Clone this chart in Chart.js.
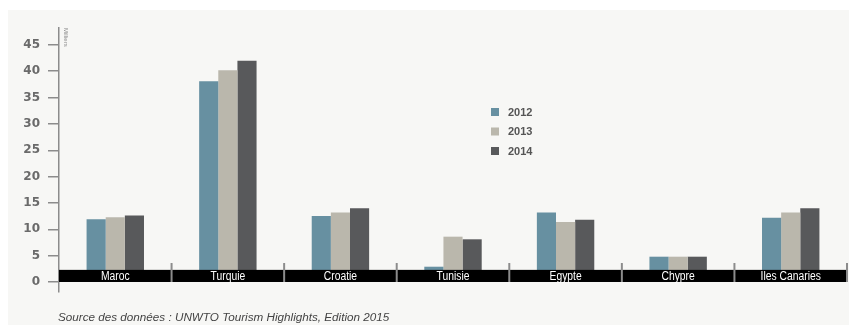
<!DOCTYPE html>
<html>
<head>
<meta charset="utf-8">
<script src="https://cdn.jsdelivr.net/npm/chart.js@4"></script>
<style>
  body { margin: 0; background: #ffffff; }
  #wrap { position: relative; width: 849px; height: 325px; }
  #source {
    position: absolute; left: 58px; top: 310px;
    font: italic 11.7px "Liberation Sans", Arial, sans-serif;
    color: #444; line-height: 14px; white-space: nowrap;
  }
</style>
</head>
<body>
<div id="wrap">
  <canvas id="salesChart" width="849" height="325"></canvas>
  <div id="source">Source des données : UNWTO Tourism Highlights, Edition 2015</div>
</div>
<script>
// data (milliers)
const categories = ['Maroc', 'Turquie', 'Croatie', 'Tunisie', 'Egypte', 'Chypre', 'Iles Canaries'];
const years = ['2012', '2013', '2014'];
const values2012 = [11.9, 38.1, 12.5, 2.9, 13.2, 4.8, 12.2];
const values2013 = [12.3, 40.2, 13.2, 8.6, 11.4, 4.8, 13.2];
const values2014 = [12.6, 42.0, 14.0, 8.1, 11.8, 4.8, 14.0];
const yTicks = [0, 5, 10, 15, 20, 25, 30, 35, 40, 45];
const unitLabel = 'Milliers';

const colors = ['#6790a1', '#bab7ac', '#58595b'];

// grey panel behind the chart
const panelPlugin = {
    id: 'panel',
    beforeDraw(chart) {
        const ctx = chart.ctx;
        ctx.save();
        ctx.fillStyle = '#ffffff';
        ctx.fillRect(0, 0, chart.width, chart.height);
        ctx.fillStyle = '#f7f7f5';
        ctx.fillRect(8, 10, chart.width - 8, chart.height - 10);
        ctx.restore();
    }
};

// black band with category names, drawn over the bar feet
const bandPlugin = {
    id: 'band',
    afterDatasetsDraw(chart) {
        const ctx = chart.ctx;
        const x = chart.scales.x;
        const y = chart.scales.y;
        const area = chart.chartArea;
        const y0 = y.getPixelForValue(0);
        const yTop = y.getPixelForValue(2.3);
        ctx.save();
        ctx.fillStyle = '#000000';
        ctx.fillRect(area.left, yTop, area.right - area.left, y0 - yTop);

        // separators between categories
        ctx.strokeStyle = '#8c8c8c';
        ctx.lineWidth = 2;
        for (let i = 0; i < categories.length; i++) {
            const sx = (x.getPixelForValue(i) + x.getPixelForValue(i + 1)) / 2;
            ctx.beginPath();
            ctx.moveTo(sx, y.getPixelForValue(3.6));
            ctx.lineTo(sx, y0);
            ctx.stroke();
        }

        // condensed white labels
        ctx.fillStyle = '#ffffff';
        ctx.font = '12px "Liberation Sans", Arial, sans-serif';
        ctx.textAlign = 'center';
        ctx.textBaseline = 'middle';
        for (let i = 0; i < categories.length; i++) {
            ctx.save();
            ctx.translate(x.getPixelForValue(i), (y0 + yTop) / 2 + 1);
            ctx.scale(0.86, 1);
            ctx.fillText(categories[i], 0, 0);
            ctx.restore();
        }

        // unit label next to the axis top
        ctx.fillStyle = '#8a8a8a';
        ctx.font = '6px "Liberation Sans", sans-serif';
        ctx.translate(area.left + 7, area.top);
        ctx.rotate(Math.PI / 2);
        ctx.textAlign = 'left';
        ctx.fillText(unitLabel, 0, 0);
        ctx.restore();
    }
};

// small legend placed inside the plot
const legendPlugin = {
    id: 'smallLegend',
    afterDraw(chart) {
        const ctx = chart.ctx;
        ctx.save();
        ctx.font = 'bold 11px "Liberation Sans", Arial, sans-serif';
        ctx.textBaseline = 'middle';
        chart.data.datasets.forEach(function (ds, i) {
            const cy = 112 + i * 19.5;
            ctx.fillStyle = ds.backgroundColor;
            ctx.fillRect(491, cy - 4, 8, 8);
            ctx.fillStyle = '#555555';
            ctx.fillText(ds.label, 508, cy + 0.5);
        });
        ctx.restore();
    }
};

new Chart(document.getElementById('salesChart'), {
    type: 'bar',
    data: {
        labels: categories,
        datasets: [
            { label: years[0], data: values2012, backgroundColor: colors[0] },
            { label: years[1], data: values2013, backgroundColor: colors[1] },
            { label: years[2], data: values2014, backgroundColor: colors[2] }
        ]
    },
    options: {
        responsive: false,
        animation: false,
        layout: { padding: { left: 0, top: 28, right: 2, bottom: 33 } },
        datasets: {
            bar: { categoryPercentage: 0.51, barPercentage: 1.0, borderWidth: 0 }
        },
        plugins: {
            legend: { display: false },
            tooltip: { enabled: false }
        },
        scales: {
            x: { display: false },
            y: {
                min: -1.9,
                max: 48.2,
                afterBuildTicks(scale) {
                    scale.ticks = yTicks.map(v => ({ value: v }));
                },
                afterFit(scale) {
                    scale.width = 59;
                },
                grid: {
                    drawOnChartArea: false,
                    drawTicks: true,
                    tickLength: 11,
                    color: '#8c8c8c',
                    lineWidth: 1.5
                },
                border: { display: true, color: '#8c8c8c', width: 1.5 },
                ticks: {
                    padding: 8,
                    color: '#6a6a6a',
                    font: { family: '"DejaVu Sans", sans-serif', size: 12, weight: 'bold' }
                }
            }
        }
    },
    plugins: [panelPlugin, bandPlugin, legendPlugin]
});
</script>
</body>
</html>
